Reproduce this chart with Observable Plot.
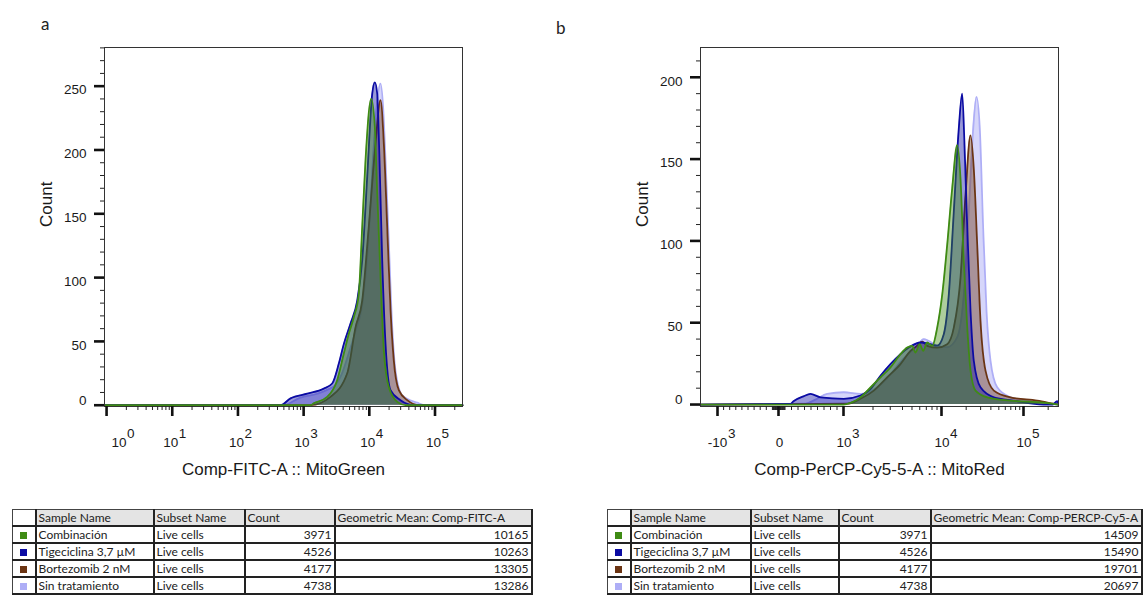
<!DOCTYPE html>
<html><head><meta charset="utf-8">
<script src="https://cdn.jsdelivr.net/npm/d3@7"></script>
<script src="https://cdn.jsdelivr.net/npm/@observablehq/plot@0.6"></script>
<style>
html,body{margin:0;padding:0;background:#fff;}
#page{position:relative;width:1148px;height:596px;overflow:hidden;background:#fff;}
.panel{position:absolute;top:0;}
.tag{position:absolute;font-family:Lato,"Open Sans",sans-serif;font-size:17px;line-height:17px;color:#222;}
table.stats{position:absolute;top:509px;border-collapse:collapse;table-layout:fixed;font-family:Lato,"Open Sans",sans-serif;font-size:12px;color:#222;}
table.stats td{border:2px solid #222;padding:0 2px;white-space:nowrap;overflow:hidden;line-height:15px;height:15px;vertical-align:middle;}
table.stats tr.hd td{background:#e4e4e4;}
table.stats tr.hd td.sw{background:#fff;}
table.stats td.sw{border-left:1px solid #444;text-align:center;}
table.stats tr.hd td{border-top:1px solid #444;}
table.stats td.num{text-align:right;}
.swatch{display:inline-block;width:7px;height:7px;vertical-align:middle;}
</style>
</head><body>
<div id="page">
  <div class="tag" style="left:41px;top:15px;">a</div>
  <div class="tag" style="left:556px;top:19px;">b</div>
</div>
<script>
// ---------- table data ----------
const samples = ["Combinación", "Tigeciclina 3,7 µM", "Bortezomib 2 nM", "Sin tratamiento"];
const sampleColors = ["#3f8b14", "#0b0ba3", "#6b3413", "#aeaef6"];
const subsetNames = ["Live cells", "Live cells", "Live cells", "Live cells"];
const cellCounts = [3971, 4526, 4177, 4738];
const geoMeanFITC = [10165, 10263, 13305, 13286];
const geoMeanPerCP = [14509, 15490, 19701, 20697];
const tableHeaderA = ["", "Sample Name", "Subset Name", "Count", "Geometric Mean: Comp-FITC-A"];
const tableHeaderB = ["", "Sample Name", "Subset Name", "Count", "Geometric Mean: Comp-PERCP-Cy5-A"];

// ---------- panel a: Comp-FITC-A :: MitoGreen (histogram counts) ----------
const fitcCombX = [0.93, 1274, 1430, 2286, 3243, 4093, 4875, 5808, 6918, 7798, 8750, 10690, 12130, 13190, 14800, 16630, 19820, 26600, 35600, 262144];
const fitcCombY = [0, 0, 1.5, 6.5, 19.6, 40.5, 56, 69, 87.5, 140, 192, 240, 218, 166, 100.5, 43, 14, 2.6, 0, 0];
const fitcTigeX = [0.93, 445, 632, 1135, 2028, 2723, 3433, 4093, 5173, 6544, 7798, 9290, 11070, 12130, 13190, 14290, 15710, 17650, 21040, 29850, 47550, 262144];
const fitcTigeY = [0, 0, 5.4, 9, 13, 17, 32.6, 48, 64, 82, 113.6, 179, 244, 253, 244, 192, 113.6, 48, 11.8, 3.9, 0, 0];
const fitcBortX = [0.93, 1274, 2566, 4613, 6166, 7798, 9820, 12420, 14800, 16630, 18710, 21040, 23600, 28120, 37760, 58100, 262144];
const fitcBortY = [0, 0, 6.5, 25, 61, 82, 140, 205, 239, 205, 140, 74.5, 35, 11.8, 4, 0, 0];
const fitcSinX = [0.93, 494, 897, 1611, 2286, 3062, 3778, 4822, 6166, 7877, 9727, 11590, 13190, 14800, 16150, 17650, 19820, 22330, 25060, 31690, 53580, 71650, 262144];
const fitcSinY = [0, 0, 6, 9, 12, 16, 24, 40, 58, 80, 130, 200, 238, 252, 235, 192, 127, 61, 27, 7.8, 2, 0, 0];

// ---------- panel b: Comp-PerCP-Cy5-5-A :: MitoRed ----------
const percpCombX = [-1279, 1000, 1179, 1491, 1886, 2385, 3016, 3814, 4467, 5027, 5430, 5990, 6510, 7140, 8050, 9040, 10197, 11740, 13500, 15540, 17050, 18700, 20600, 22600, 26000, 36100, 69300, 175000, 262144];
const percpCombY = [0, 0, 1, 4.4, 10.5, 16.6, 22.7, 30.8, 34.8, 35.9, 31.8, 36.9, 32.8, 37.9, 35.9, 47, 67, 97.7, 132, 158.5, 138, 87.5, 47, 20.7, 8.5, 4.4, 2.4, 1.2, 0];
const percpTigeX = [-1279, 185, 231, 385, 492, 646, 1007, 1491, 1886, 2385, 3016, 3814, 4640, 6110, 7730, 9040, 10660, 12270, 14130, 16250, 17880, 19080, 20600, 22600, 24760, 29900, 43500, 75500, 175000, 226000, 258000, 262144];
const percpTigeY = [0, 0.4, 2, 5, 6.5, 4.4, 3.5, 5.5, 9.5, 17.6, 24.7, 30.8, 34.8, 37.9, 36.9, 36, 43, 67, 118, 168.6, 190, 158.5, 108, 57, 26.7, 10.5, 4.4, 2.4, 0, 0, 2, 1];
const percpBortX = [-1279, 1090, 1491, 2040, 2790, 3814, 4830, 5650, 6350, 7140, 9040, 11740, 14130, 17050, 19630, 22600, 24760, 27250, 29900, 34400, 43500, 69300, 147000, 232000, 262144];
const percpBortY = [0, 0.5, 3.5, 8.5, 16.6, 24.7, 32.8, 35.9, 38.5, 35.9, 34.8, 36.9, 47, 77.4, 128, 164.5, 144, 97.7, 51, 20.7, 8.5, 4.4, 2.4, 0.5, 0];
const percpSinX = [-1279, 415, 569, 749, 1007, 1491, 2030, 2790, 3814, 5650, 6590, 9040, 11740, 15540, 18700, 21540, 24350, 26700, 29300, 32200, 35400, 39600, 47800, 69300, 111000, 175000, 262144];
const percpSinY = [0, 0.5, 3, 6.5, 7.5, 6.5, 9, 16, 26, 36, 40, 36, 35, 41, 67, 118, 168.6, 188, 168.6, 108, 57, 26.7, 10.5, 4.4, 2.4, 0.5, 0];

// ---------- axis ticks ----------
const yMajorA = [0, 50, 100, 150, 200, 250];
const yMajorB = [0, 50, 100, 150, 200];
const xTickValsA = [1, 10, 100, 1000, 10000, 100000];
const xTickBaseA = ["10", "10", "10", "10", "10", "10"];
const xTickExpA = ["0", "1", "2", "3", "4", "5"];
const xTickValsB = [-1000, 0, 1000, 10000, 100000];
const xTickBaseB = ["-10", "0", "10", "10", "10"];
const xTickExpB = ["3", "", "3", "4", "5"];

// FlowJo-like biexponential display (returns display units across the 358px axis)
function biex(v) {
  if (v < 0) return 78 + v * 0.061;
  if (v < 1000) return 78 + v * 0.065;
  if (v < 10000) return 143 + 98 * Math.log10(v / 1000);
  return 241 + 82 * Math.log10(v / 10000);
}

const minorA = [];
for (let e = 0; e <= 5; e++) for (let k = 2; k <= 9; k++) { const v = k * 10 ** e; if (v <= 262144) minorA.push(v); }
const minorB = [];
for (let k = 1; k <= 9; k++) { minorB.push(-k * 100, -k * 10, k * 10, k * 100); }
for (let k = 2; k <= 9; k++) { minorB.push(k * 1000, k * 10000); }
minorB.push(200000);

const order = [3, 2, 1, 0]; // draw back to front
function seriesMarks(xs, ys) {
  const marks = [];
  for (const i of order) {
    const pts = xs[i].map((x, k) => ({x, y: ys[i][k]}));
    marks.push(Plot.areaY(pts, {x: "x", y: "y", fill: sampleColors[i], fillOpacity: i === 3 ? 0.5 : 0.42, curve: "monotone-x"}));
    marks.push(Plot.lineY(pts, {x: "x", y: "y", stroke: sampleColors[i], strokeWidth: 1.8, curve: "monotone-x"}));
  }
  return marks;
}

const FW = 358; // frame width (px)
const FH = 359; // frame height (px)
function yAxisMarks(major, maxMinor) {
  return [
    Plot.tickY(d3.range(0, maxMinor + 1, 10), {y: d => d, insetRight: FW - 4, dx: -4, stroke: "#222", strokeWidth: 1}),
    Plot.tickY(major, {y: d => d, insetRight: FW - 10, dx: -10, stroke: "#111", strokeWidth: 2.6}),
    Plot.text(major.filter(d => d !== 0), {y: d => d, frameAnchor: "left", dx: -18, dy: 4, textAnchor: "end", text: d => String(d), fill: "#1a1a1a"}),
    Plot.text([0], {y: d => d, frameAnchor: "left", dx: -18, dy: -5, textAnchor: "end", text: d => String(d), fill: "#1a1a1a"}),
    Plot.text(["Count"], {frameAnchor: "left", dx: -58, rotate: -90, fontSize: 17, fill: "#1a1a1a"})
  ];
}

function xTickMarks(minor, major) {
  return [
    Plot.tickX(minor, {x: d => d, insetTop: FH - 4, dy: 4, stroke: "#222", strokeWidth: 1}),
    Plot.tickX(major, {x: d => d, insetTop: FH - 10, dy: 10, stroke: "#111", strokeWidth: 2.6})
  ];
}

function xLabelMarks(vals, bases, exps, baseDx, expDx) {
  const marks = [];
  vals.forEach((v, i) => {
    marks.push(Plot.text([v], {x: d => d, frameAnchor: "bottom", text: () => bases[i], dy: 31, dx: baseDx[i], lineAnchor: "top", textAnchor: "middle", fill: "#1a1a1a"}));
    if (exps[i]) marks.push(Plot.text([v], {x: d => d, frameAnchor: "bottom", text: () => exps[i], dy: 21.5, dx: expDx[i], lineAnchor: "top", textAnchor: "start", fill: "#1a1a1a"}));
  });
  return marks;
}

const style = {fontFamily: "'Liberation Sans', Arial, sans-serif", fontSize: "13.5px", color: "#1a1a1a", background: "transparent", overflow: "visible"};

const plotA = Plot.plot({
  width: 560, height: 490, marginLeft: 104, marginRight: 98, marginTop: 47, marginBottom: 84,
  style,
  x: {type: "log", domain: [0.93, 262144], axis: null},
  y: {domain: [-1, 280.3], axis: null},
  marks: [
    ...seriesMarks([fitcCombX, fitcTigeX, fitcBortX, fitcSinX], [fitcCombY, fitcTigeY, fitcBortY, fitcSinY]),
    Plot.frame({stroke: "#333", strokeWidth: 1}),
    ...yAxisMarks(yMajorA, 280),
    ...xTickMarks(minorA, xTickValsA),
    ...xLabelMarks(xTickValsA, xTickBaseA, xTickExpA, [12.5, -1.5, -1.5, -1.5, -1.5, -1.5], [20.5, 6.5, 6.5, 6.5, 6.5, 6.5]),
    Plot.text(["Comp-FITC-A :: MitoGreen"], {frameAnchor: "bottom", dy: 56, lineAnchor: "top", fontSize: 17, fill: "#1a1a1a"})
  ]
});
plotA.classList.add("panel");
plotA.style.left = "0px";

const plotB = Plot.plot({
  width: 588, height: 490, marginLeft: 140, marginRight: 90, marginTop: 47, marginBottom: 84,
  style,
  x: {type: "linear", transform: biex, domain: [0, 358], axis: null},
  y: {domain: [-1.2, 218.2], axis: null},
  marks: [
    ...seriesMarks([percpCombX, percpTigeX, percpBortX, percpSinX], [percpCombY, percpTigeY, percpBortY, percpSinY]),
    Plot.frame({stroke: "#333", strokeWidth: 1}),
    ...yAxisMarks(yMajorB, 210),
    ...xTickMarks(minorB, xTickValsB),
    ...xLabelMarks(xTickValsB, xTickBaseB, xTickExpB, [0, 1, 0.5, 0.5, 0.5], [10.5, 0, 8.5, 8.5, 8.5]),
    Plot.text(["Comp-PerCP-Cy5-5-A :: MitoRed"], {frameAnchor: "bottom", dy: 56, lineAnchor: "top", fontSize: 17, fill: "#1a1a1a"})
  ]
});
plotB.classList.add("panel");
plotB.style.left = "560px";

const page = document.getElementById("page");
page.appendChild(plotA);
page.appendChild(plotB);

function buildTable(left, widths, header, means) {
  const t = document.createElement("table");
  t.className = "stats";
  t.style.left = left + "px";
  t.style.width = d3.sum(widths) + "px";
  const cg = document.createElement("colgroup");
  widths.forEach(w => { const c = document.createElement("col"); c.style.width = w + "px"; cg.appendChild(c); });
  t.appendChild(cg);
  const hr = document.createElement("tr"); hr.className = "hd";
  header.forEach((h, j) => { const td = document.createElement("td"); td.textContent = h; if (j === 0) td.className = "sw"; hr.appendChild(td); });
  t.appendChild(hr);
  samples.forEach((s, i) => {
    const tr = document.createElement("tr");
    const sw = document.createElement("td"); sw.className = "sw";
    const box = document.createElement("span"); box.className = "swatch"; box.style.background = sampleColors[i];
    sw.appendChild(box); tr.appendChild(sw);
    [s, subsetNames[i]].forEach(v => { const td = document.createElement("td"); td.textContent = v; tr.appendChild(td); });
    [cellCounts[i], means[i]].forEach(v => { const td = document.createElement("td"); td.className = "num"; td.textContent = v; tr.appendChild(td); });
    t.appendChild(tr);
  });
  page.appendChild(t);
}
buildTable(12, [23, 118, 91, 90, 197], tableHeaderA, geoMeanFITC);
buildTable(607, [23, 120, 88, 92, 211], tableHeaderB, geoMeanPerCP);
</script>
</body></html>
